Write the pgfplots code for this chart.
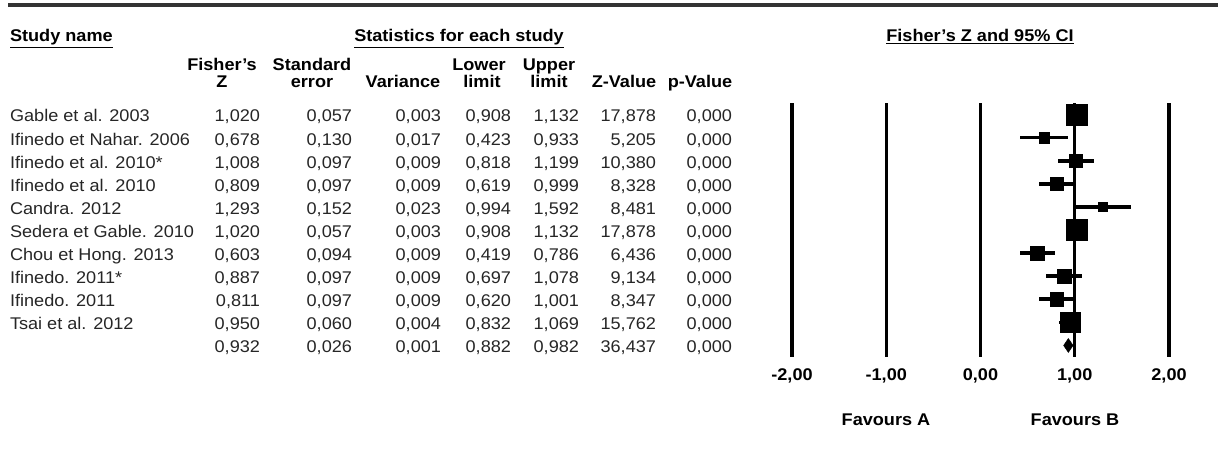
\documentclass[border=0pt]{standalone}
\usepackage{pgfplots}
\pgfplotsset{compat=1.18}
\usepackage{pgfplotstable}
\usepackage{fontspec}
\setmainfont[FakeStretch=1.07]{Liberation Sans}

\pgfplotstableread[col sep=semicolon]{
name;z;se;var;lo;hi;zv;p
Gable et al. 2003;1.020;0.057;0.003;0.908;1.132;17.878;0.000
Ifinedo et Nahar. 2006;0.678;0.130;0.017;0.423;0.933;5.205;0.000
Ifinedo et al. 2010*;1.008;0.097;0.009;0.818;1.199;10.380;0.000
Ifinedo et al. 2010;0.809;0.097;0.009;0.619;0.999;8.328;0.000
Candra. 2012;1.293;0.152;0.023;0.994;1.592;8.481;0.000
Sedera et Gable. 2010;1.020;0.057;0.003;0.908;1.132;17.878;0.000
Chou et Hong. 2013;0.603;0.094;0.009;0.419;0.786;6.436;0.000
Ifinedo. 2011*;0.887;0.097;0.009;0.697;1.078;9.134;0.000
Ifinedo. 2011;0.811;0.097;0.009;0.620;1.001;8.347;0.000
Tsai et al. 2012;0.950;0.060;0.004;0.832;1.069;15.762;0.000
Summary;0.932;0.026;0.001;0.882;0.982;36.437;0.000
}\data

\newcommand\bodyfont{\fontsize{17}{20}\selectfont}
\newcommand\headfont{\bfseries\fontsize{17}{20}\selectfont}

\begin{document}
\begin{tikzpicture}[x=1bp, y=-1bp, every node/.style={inner sep=0pt, outer sep=0pt}]
\useasboundingbox (0,0) rectangle (1225,469);
\draw[line width=4bp, black!80] (8,5) -- (1218,5);

% headers
\node[anchor=base west, font=\headfont] at (10,42) {\underline{Study name}};
\node[anchor=base, font=\headfont] at (459,42) {\underline{Statistics for each study}};
\node[anchor=base, font=\headfont] at (980,42) {\underline{Fisher's Z and 95\% CI}};
\foreach \t/\xx/\yy in {Fisher's/222/71, Z/222/88, Standard/312/71, error/312/88,
    Variance/403/88, Lower/479/71, limit/482/88, Upper/549/71, limit/549/88,
    Z-Value/624/88, p-Value/700/88}
  \node[anchor=base, font=\headfont] at (\xx,\yy) {\t};

% table body
\foreach \i in {0,...,10}{
  \pgfmathsetmacro\yb{122+\i*23.1}
  \ifnum\i<10
    \pgfplotstablegetelem{\i}{name}\of\data
    \node[anchor=base west, font=\bodyfont, black!85] at (10,\yb) {\pgfplotsretval};
  \fi
  \foreach \cn/\xr in {z/260,se/352,var/441,lo/511,hi/579,zv/656,p/732}{
    \pgfplotstablegetelem{\i}{\cn}\of\data
    \edef\v{\pgfplotsretval}
    \node[anchor=base east, font=\bodyfont, black!85] at (\xr,\yb)
      {\pgfmathprintnumber[fixed,fixed zerofill,precision=3,use comma,assume math mode=true]{\v}};
  }
}

\node[anchor=base, font=\headfont] at (886,426) {Favours A};
\node[anchor=base, font=\headfont] at (1075,426) {Favours B};

\begin{axis}[
    at={(792bp,-357bp)}, anchor=south west,
    scale only axis, width=377bp, height=254bp,
    xmin=-2, xmax=2, ymin=0.5, ymax=11.5, y dir=reverse,
    axis line style={draw=none}, ytick=\empty,
    xtick={-2,-1,0,1,2}, major tick length=0,
    xmajorgrids, grid style={black, line width=3.2bp},
    xticklabel style={font=\headfont, anchor=base, yshift=-23bp,
      /pgf/number format/.cd, fixed, fixed zerofill, precision=2, use comma,
      assume math mode=true},
    clip=false,
  ]
\addplot[black, only marks, mark=square*,
    mark options={line width=0.4bp},
    scatter, scatter/use mapped color={draw=black, fill=black},
    visualization depends on={0.55/\thisrow{se}+1 \as \msize},
    scatter/@pre marker code/.append style={/tikz/mark size=\msize},
    skip coords between index={10}{11},
    error bars/.cd, x dir=both, x explicit,
    error bar style={line width=3.6bp, black}, error mark=none]
  table[x=z, y expr=\coordindex+1,
    x error plus expr=\thisrow{hi}-\thisrow{z},
    x error minus expr=\thisrow{z}-\thisrow{lo}] {\data};
% summary diamond (lower, estimate, upper)
\addplot[fill=black, draw=black, line width=0.5bp]
  coordinates {(0.882,11) (0.932,10.7) (0.982,11) (0.932,11.3)} -- cycle;
\end{axis}
\end{tikzpicture}
\end{document}
